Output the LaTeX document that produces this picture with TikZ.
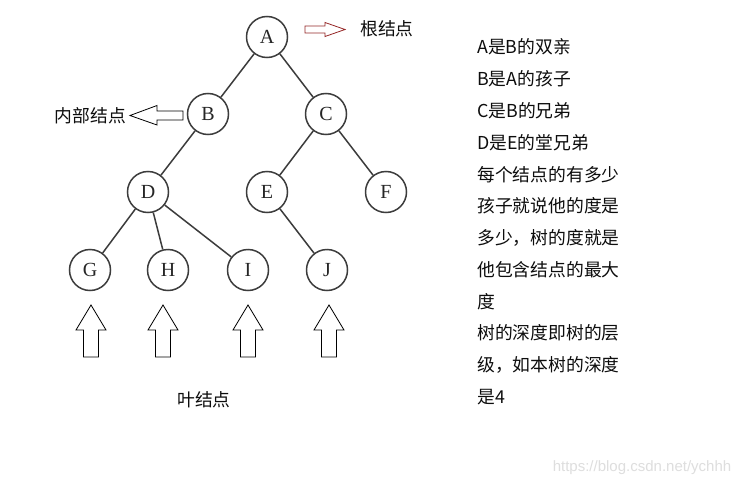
\documentclass[tikz,border=0pt]{standalone}
\usepackage{fontspec}
\setmainfont{Liberation Serif}
\newfontfamily\cjk{Noto Sans CJK SC}
\newfontfamily\wmfont{Liberation Sans}
\definecolor{linegray}{RGB}{60,60,60}
\definecolor{arrowred}{RGB}{150,40,40}
\tikzset{
  tnode/.style={circle,draw=linegray,line width=1.5pt,minimum size=41pt,inner sep=0pt,
    font=\fontsize{20}{20}\selectfont,text=black!85},
  edge/.style={draw=linegray,line width=1.5pt},
  hollow/.style={draw=black,line width=0.8pt,fill=white},
  zhtext/.style={font=\cjk\fontsize{17.8}{17.8}\selectfont,text=black!95,inner sep=0pt}
}
\begin{document}
\begin{tikzpicture}[x=1pt,y=-1pt]
  \useasboundingbox[fill=white] (0,0) rectangle (743,487);
  % the tree
  \node[tnode] (A) at (267,37) {A};
  \node[tnode] (B) at (208,114) {B};
  \node[tnode] (C) at (326,114) {C};
  \node[tnode] (D) at (148,192) {D};
  \node[tnode] (E) at (267,192) {E};
  \node[tnode] (F) at (386,192) {F};
  \node[tnode] (G) at (90,270) {G};
  \node[tnode] (H) at (168,270) {H};
  \node[tnode] (I) at (248,270) {I};
  \node[tnode] (J) at (327,270) {J};
  \foreach \u/\v in {A/B,A/C,B/D,C/E,C/F,D/G,D/H,D/I,E/J}
    \draw[edge] (\u) -- (\v);
  % root marker
  \draw[hollow,draw=arrowred] (305,26) -- (325,26) -- (325,22.5) -- (345,29.5)
    -- (325,36.5) -- (325,33) -- (305,33) -- cycle;
  \node[zhtext,anchor=west] (root) at (360,29) {根结点};
  % inner marker
  \draw[hollow] (183,111) -- (157,111) -- (157,105.5) -- (130,115.5)
    -- (157,125) -- (157,120) -- (183,120) -- cycle;
  \node[zhtext,anchor=east] (inner) at (126,116) {内部结点};
  % leaf markers
  \foreach \x in {91,163,248,329}
    \draw[hollow] (\x-7.5,357) -- (\x-7.5,330) -- (\x-15,330) -- (\x,305)
      -- (\x+15,330) -- (\x+7.5,330) -- (\x+7.5,357) -- cycle;
  \node[zhtext] (leaf) at (204,400) {叶结点};
  % notes
  \foreach \txt [count=\i] in {A是B的双亲,B是A的孩子,C是B的兄弟,D是E的堂兄弟,
      每个结点的有多少,孩子就说他的度是,多少，树的度就是,他包含结点的最大,度,
      树的深度即树的层,级，如本树的深度,是4}
    \node[zhtext,anchor=west] (note\i) at (477,{47+31.8*(\i-1)}) {\txt};
  \node[font=\wmfont\fontsize{15}{15}\selectfont,text=black!13,inner sep=0pt]
    (mark) at (642,468) {https://blog.csdn.net/ychhh};
\end{tikzpicture}
\end{document}
